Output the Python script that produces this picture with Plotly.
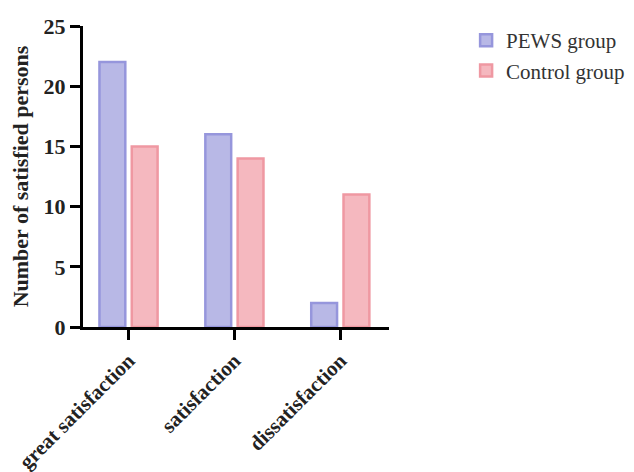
import plotly.graph_objects as go

categories = ["great satisfaction", "satisfaction", "dissatisfaction"]
pews_values = [22, 16, 2]
control_values = [15, 14, 11]
y_ticks = [0, 5, 10, 15, 20, 25]

fig = go.Figure()
fig.add_trace(go.Bar(
    name="PEWS group", x=categories, y=pews_values,
    marker=dict(color="#b8b8e6", line=dict(color="#9696dc", width=2.5)),
))
fig.add_trace(go.Bar(
    name="Control group", x=categories, y=control_values,
    marker=dict(color="#f5b8bf", line=dict(color="#ef98a2", width=2.5)),
))

font_family = "Liberation Serif, Times New Roman, serif"
fig.update_layout(
    width=634, height=472,
    margin=dict(l=75, r=252, t=13, b=153),
    paper_bgcolor="white", plot_bgcolor="white",
    barmode="group", bargap=0.39, bargroupgap=0.2,
    font=dict(family=font_family, color="#222222"),
    showlegend=True,
    legend=dict(
        x=1.252, y=1.02, xanchor="left", yanchor="top",
        xref="paper", yref="paper",
        font=dict(family=font_family, size=21, color="#333333"),
        tracegroupgap=12, itemwidth=30,
        bgcolor="rgba(0,0,0,0)",
    ),
)
fig.update_xaxes(
    range=[-0.43, 2.46],
    showline=True, linecolor="black", linewidth=3,
    ticks="outside", ticklen=10, tickwidth=3, tickcolor="black",
    tickangle=-45, automargin=False,
    tickfont=dict(family=font_family, size=21, color="#222222", weight="bold"),
    showgrid=False, zeroline=False,
)
fig.update_yaxes(
    range=[0, 25], tickvals=y_ticks,
    showline=True, linecolor="black", linewidth=3,
    ticks="outside", ticklen=10, tickwidth=3, tickcolor="black",
    tickfont=dict(family=font_family, size=22, color="#222222", weight="bold"),
    showgrid=False, zeroline=False, automargin=False,
    title=dict(text="Number of satisfied persons", standoff=10,
               font=dict(family=font_family, size=22, color="#222222", weight="bold")),
)

fig.write_html("out.html")
